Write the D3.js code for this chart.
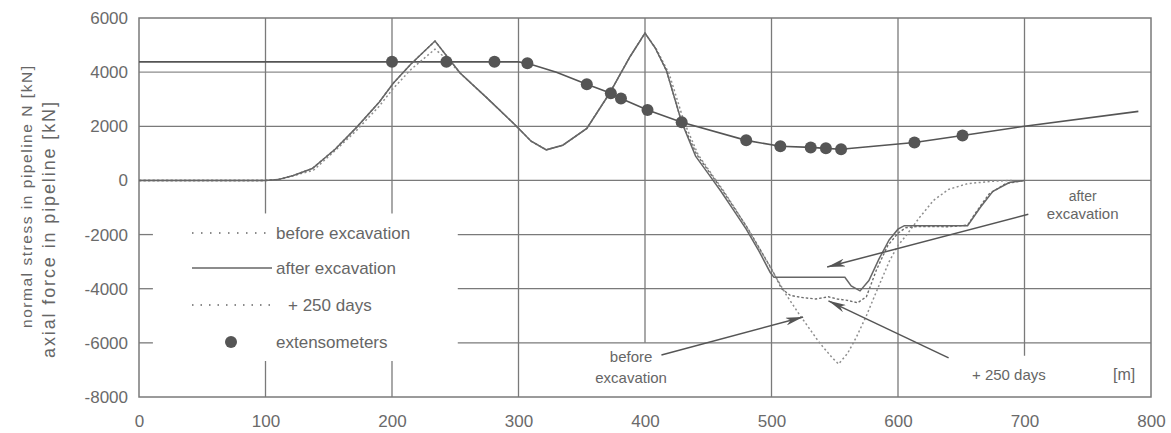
<!DOCTYPE html>
<html><head><meta charset="utf-8">
<script src="https://cdn.jsdelivr.net/npm/d3@7"></script>
<style>
body{margin:0;background:#fff}
svg{display:block}
text{font-family:"Liberation Sans",Arial,sans-serif;fill:#666}
</style>
</head><body>
<svg id="c" width="1171" height="433"></svg>
<script>
// ---------- data ----------
const xTicks = [0,100,200,300,400,500,600,700,800];
const yTicks = [6000,4000,2000,0,-2000,-4000,-6000,-8000];

const beforeExcavation = [
  [0,0],[100,0],[110,30],[122,170],[138,380],[155,1100],[172,1850],[190,2750],[201,3400],[215,4100],[234,4850],
  [244,4450],[254,3960],[275,3050],[296,2110],[310,1450],[322,1130],[335,1300],[354,1920],[372,3220],[388,4560],[400,5440],
  [409,4850],[419,3950],[431,2150],[442,950],[452,280],[462,-380],[472,-1100],[482,-1850],[492,-2650],[502,-3450],
  [512,-4250],[522,-4950],[538,-6000],[548,-6550],[553,-6780],[560,-6400],[567,-5800],[575,-5000],[583,-4100],
  [593,-3000],[600,-2400],[607,-2000],[617,-1370],[628,-740],[640,-330],[655,-120],[675,-30],[690,0]
];
const afterExcavation = [
  [0,0],[100,0],[110,30],[122,185],[137,440],[155,1150],[172,1960],[190,2900],[201,3590],[215,4300],[234,5150],
  [244,4550],[254,3960],[275,3050],[296,2110],[310,1450],[322,1130],[335,1300],[354,1920],[372,3220],[388,4560],[400,5440],
  [408,4900],[417,4050],[429,2150],[440,900],[450,250],[460,-400],[470,-1100],[480,-1800],[490,-2600],[499,-3400],
  [502,-3580],[558,-3580],[563,-3900],[570,-4080],[577,-3700],[585,-2900],[593,-2200],[600,-1800],[605,-1670],
  [655,-1670],[665,-1000],[675,-400],[688,-80],[700,0]
];
const plus250Days = [
  [0,0],[100,0],[110,30],[122,185],[137,440],[155,1150],[172,1960],[190,2900],[201,3590],[215,4300],[234,5150],
  [244,4550],[254,3960],[275,3050],[296,2110],[310,1450],[322,1130],[335,1300],[354,1920],[372,3220],[388,4560],[400,5440],
  [408,4900],[417,4050],[429,2150],[441,950],[451,300],[461,-350],[471,-1050],[481,-1750],[491,-2550],[501,-3350],
  [508,-4000],[515,-4250],[525,-4330],[535,-4380],[545,-4300],[552,-4380],[560,-4430],[568,-4520],[575,-4300],
  [583,-3300],[592,-2400],[600,-1950],[606,-1750],[615,-1700],[640,-1710],[655,-1650],[662,-1150],[672,-500],
  [685,-120],[700,0]
];
const extensometerLine = [
  [0,4380],[300,4380],[307,4330],[330,4000],[354,3550],[373,3220],[381,3030],[402,2600],[429,2150],
  [480,1480],[507,1260],[531,1220],[543,1185],[555,1150],[613,1400],[651,1660],[700,2000],[790,2550]
];
const extensometerPoints = [
  [200,4380],[243,4380],[281,4380],[307,4330],[354,3550],[373,3220],[381,3030],[402,2600],[429,2150],
  [480,1480],[507,1260],[531,1220],[543,1185],[555,1150],[613,1400],[651,1660]
];
const legendLabels = ["before excavation","after excavation","+ 250 days","extensometers"];
const annotationLabels = [["after","excavation"],["before","excavation"],["+ 250 days"]];

// ---------- drawing ----------
const svg = d3.select("#c");
const x = d3.scaleLinear().domain([0,800]).range([139,1151]);
const y = d3.scaleLinear().domain([-8000,6000]).range([397,18]);
const grid = "#7a7a7a";

svg.append("rect").attr("width",1171).attr("height",433).attr("fill","#fff");

const g = svg.append("g");
[4000,2000,0].forEach(v=>{
  g.append("line").attr("x1",x(0)).attr("x2",x(800)).attr("y1",y(v)).attr("y2",y(v))
   .attr("stroke",v===4000?"#8c8c8c":grid).attr("stroke-width",1.3);
});
[-2000,-4000,-6000].forEach(v=>{
  g.append("line").attr("x1",x(252)).attr("x2",x(800)).attr("y1",y(v)).attr("y2",y(v))
   .attr("stroke",grid).attr("stroke-width",1.3);
  g.append("line").attr("x1",x(0)).attr("x2",x(11)).attr("y1",y(v)).attr("y2",y(v))
   .attr("stroke",grid).attr("stroke-width",1.3);
});
const vSegs = [
  [100,6000,-1220],[100,-6670,-8000],[200,6000,-1220],[200,-6670,-8000],
  [300,6000,-8000],[400,6000,-6000],[500,6000,-8000],[600,6000,-8000],[700,6000,-6480]
];
vSegs.forEach(([m,a,b])=>{
  g.append("line").attr("x1",x(m)).attr("x2",x(m)).attr("y1",y(a)).attr("y2",y(b))
   .attr("stroke",grid).attr("stroke-width",1.3);
});
g.append("rect").attr("x",x(0)).attr("y",y(6000)).attr("width",x(800)-x(0)).attr("height",y(-8000)-y(6000))
 .attr("fill","none").attr("stroke",grid).attr("stroke-width",1.5);

const ya = svg.append("g").attr("transform",`translate(${x(0)},0)`)
  .call(d3.axisLeft(y).tickValues(yTicks).tickSize(0).tickPadding(11).tickFormat(d=>String(d)));
ya.select(".domain").remove();
ya.selectAll("text").attr("font-size",17).attr("font-family","Liberation Sans, Arial, sans-serif").style("fill","#6a6a6a");
const xa = svg.append("g").attr("transform",`translate(0,${y(-8000)})`)
  .call(d3.axisBottom(x).tickValues(xTicks).tickSize(0).tickPadding(18).tickFormat(d=>String(d)));
xa.select(".domain").remove();
xa.selectAll("text").attr("font-size",17).attr("font-family","Liberation Sans, Arial, sans-serif").style("fill","#6a6a6a");

svg.append("text").attr("transform","translate(32,197) rotate(-90)").attr("text-anchor","middle")
  .attr("font-size",15.5).attr("textLength",262).attr("lengthAdjust","spacing")
  .text("normal stress in pipeline N [kN]");
svg.append("text").attr("transform","translate(55,230) rotate(-90)").attr("text-anchor","middle")
  .attr("font-size",18).attr("textLength",256).attr("lengthAdjust","spacing")
  .text("axial force in pipeline   [kN]");

const lineL = d3.line().x(d=>x(d[0])).y(d=>y(d[1]));
svg.append("path").datum(extensometerLine).attr("d",lineL).attr("fill","none")
  .attr("stroke","#555").attr("stroke-width",1.6);
svg.append("path").datum(beforeExcavation).attr("d",lineL).attr("fill","none")
  .attr("stroke","#8e8e8e").attr("stroke-width",1.5).attr("stroke-dasharray","2,2.5");
svg.append("path").datum(plus250Days).attr("d",lineL).attr("fill","none")
  .attr("stroke","#6e6e6e").attr("stroke-width",1.4).attr("stroke-dasharray","2.5,2");
svg.append("path").datum(afterExcavation).attr("d",lineL).attr("fill","none")
  .attr("stroke","#666").attr("stroke-width",1.5);

svg.append("g").selectAll("circle").data(extensometerPoints).join("circle")
  .attr("cx",d=>x(d[0])).attr("cy",d=>y(d[1])).attr("r",6).attr("fill","#555");

const lg = svg.append("g");
const legY = [233,268,305,342];
lg.append("line").attr("x1",192).attr("x2",266).attr("y1",legY[0]).attr("y2",legY[0])
  .attr("stroke","#666").attr("stroke-width",1.4).attr("stroke-dasharray","1.5,7.5");
lg.append("line").attr("x1",192).attr("x2",272).attr("y1",legY[1]).attr("y2",legY[1])
  .attr("stroke","#666").attr("stroke-width",1.4);
lg.append("line").attr("x1",192).attr("x2",272).attr("y1",legY[2]).attr("y2",legY[2])
  .attr("stroke","#666").attr("stroke-width",1.4).attr("stroke-dasharray","1.5,7");
lg.append("circle").attr("cx",231).attr("cy",legY[3]).attr("r",6).attr("fill","#555");
legendLabels.forEach((t,i)=>{
  lg.append("text").attr("x",i===2?288:276).attr("y",legY[i]).attr("dy","0.35em")
    .attr("font-size",17).text(t);
});

const defs = svg.append("defs");
defs.append("marker").attr("id","ah").attr("viewBox","0 0 18 8").attr("refX",18).attr("refY",4)
  .attr("markerUnits","userSpaceOnUse").attr("markerWidth",18).attr("markerHeight",8).attr("orient","auto")
  .append("path").attr("d","M0,0 L18,4 L0,8 L5,4 Z").attr("fill","#555");
const arrows = [
  [[703,-1250],[544,-3200]],
  [[413,-6446],[525,-5042]],
  [[640,-6557],[545,-4449]]
];
arrows.forEach(([a,b])=>{
  svg.append("line").attr("x1",x(a[0])).attr("y1",y(a[1])).attr("x2",x(b[0])).attr("y2",y(b[1]))
    .attr("stroke","#555").attr("stroke-width",1.5).attr("marker-end","url(#ah)");
});
svg.append("text").attr("x",x(746)).attr("y",201).attr("text-anchor","middle").attr("font-size",14).text(annotationLabels[0][0]);
svg.append("text").attr("x",x(746)).attr("y",219).attr("text-anchor","middle").attr("font-size",15).text(annotationLabels[0][1]);
svg.append("text").attr("x",x(389)).attr("y",362).attr("text-anchor","middle").attr("font-size",15).text(annotationLabels[1][0]);
svg.append("text").attr("x",x(389)).attr("y",383).attr("text-anchor","middle").attr("font-size",15).text(annotationLabels[1][1]);
svg.append("text").attr("x",972).attr("y",380).attr("font-size",15).text(annotationLabels[2][0]);
svg.append("text").attr("x",1113).attr("y",380).attr("font-size",16).text("[m]");
</script>
</body></html>
